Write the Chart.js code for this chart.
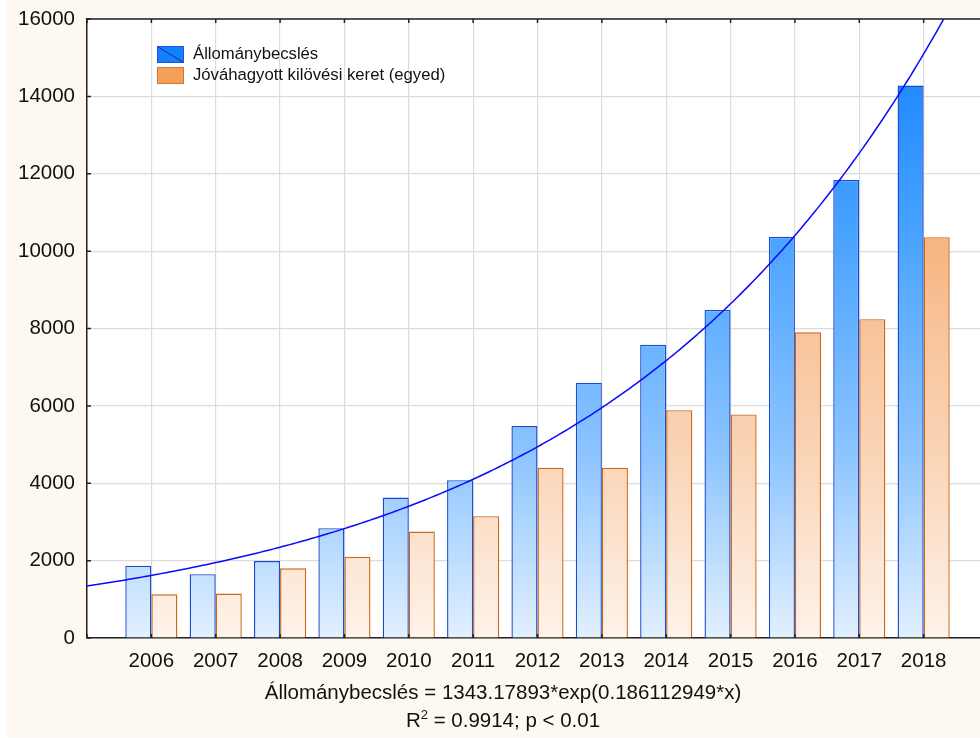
<!DOCTYPE html>
<html><head><meta charset="utf-8">
<script src="https://cdn.jsdelivr.net/npm/chart.js@4.4.1/dist/chart.umd.min.js"></script>
<style>
html,body{margin:0;padding:0;background:#fff;overflow:hidden;width:980px;height:738px;}
#wrap{position:relative;width:1000px;height:738px;}
#c{position:absolute;left:0;top:0;}
.lg{position:absolute;left:157px;top:46px;font-family:"Liberation Sans",Arial,sans-serif;font-size:16.7px;color:#111;}
.row{position:relative;height:21px;white-space:nowrap;}
.box{position:absolute;left:0;top:0;width:25px;height:15px;}
.txt{position:absolute;left:36px;top:-1px;line-height:17px;}
.b1{background:#1480ff;border:1px solid #1f55d0;background-image:linear-gradient(to bottom left, transparent calc(50% - 0.8px), #10249a 50%, transparent calc(50% + 0.8px));}
.b2{background:#f5a05a;border:1px solid #d4782e;}
.ft{position:absolute;left:0;width:1006px;top:678px;text-align:center;font-family:"Liberation Sans",Arial,sans-serif;font-size:20.5px;line-height:28px;color:#111;}
.ft sup{font-size:13px;line-height:0;vertical-align:8px;}
</style></head>
<body>
<div id="wrap">
<canvas id="c" width="1000" height="738"></canvas>
<div class="lg">
  <div class="row"><div class="box b1"></div><div class="txt">Állománybecslés</div></div>
  <div class="row"><div class="box b2"></div><div class="txt">Jóváhagyott kilövési keret (egyed)</div></div>
</div>
<div class="ft">Állománybecslés = 1343.17893*exp(0.186112949*x)<br>R<sup>2</sup> = 0.9914; p &lt; 0.01</div>
</div>
<script>
const years = [2006, 2007, 2008, 2009, 2010, 2011, 2012, 2013, 2014, 2015, 2016, 2017, 2018];
const allomanybecsles = [1870, 1650, 1990, 2840, 3630, 4080, 5480, 6600, 7580, 8480, 10370, 11840, 14280];
const kilovesiKeret = [1130, 1150, 1800, 2100, 2750, 3150, 4400, 4400, 5890, 5780, 7900, 8240, 10360];
const yTickValues = [0, 2000, 4000, 6000, 8000, 10000, 12000, 14000, 16000];
// fitted curve printed on the chart: y = A*exp(B*x), x = year - 2005
const fitA = 1343.17893;
const fitB = 0.186112949;
const fitOriginYear = 2005;

const xMin = years[0] - 1, xMax = years[years.length - 1] + 1;
const fitPoints = [];
for (let i = 0; i <= (xMax - xMin) * 20; i++) {
  const x = xMin + i / 20;
  fitPoints.push({x: x, y: fitA * Math.exp(fitB * (x - fitOriginYear))});
}

function grad(ctx, chart, stops) {
  const a = chart.chartArea;
  if (!a) return stops[0][1];
  const g = ctx.createLinearGradient(0, a.bottom, 0, a.top);
  stops.forEach(s => g.addColorStop(s[0], s[1]));
  return g;
}
const blueStops = [[0, '#e2f0fe'], [0.3, '#8cc4ff'], [0.68, '#44a0ff'], [0.92, '#1e88ff'], [1, '#1582ff']];
const orangeStops = [[0, '#fef3ea'], [0.3, '#fad4b5'], [0.49, '#f8c49c'], [0.65, '#f6b47f'], [1, '#f39550']];

const framePlugin = {
  id: 'frame',
  beforeDraw(chart) {
    const {ctx, chartArea: a} = chart;
    ctx.save();
    ctx.fillStyle = '#ffffff';
    ctx.fillRect(0, 0, chart.width, chart.height);
    ctx.fillStyle = '#fdf9f0';
    ctx.fillRect(7, 0, chart.width - 7, 737);
    ctx.fillStyle = '#ffffff';
    ctx.fillRect(a.left, a.top, a.right - a.left, a.bottom - a.top);
    ctx.restore();
  },
  afterDraw(chart) {
    const {ctx, chartArea: a, scales} = chart;
    ctx.save();
    ctx.strokeStyle = '#222';
    ctx.lineWidth = 1.5;
    ctx.beginPath();
    ctx.moveTo(a.left, a.top); ctx.lineTo(a.right, a.top);
    ctx.stroke();
    ctx.beginPath();
    yTickValues.forEach(v => {
      const y = scales.y.getPixelForValue(v);
      ctx.moveTo(a.left, y); ctx.lineTo(a.left + 4, y);
    });
    for (let yr = xMin; yr <= xMax; yr++) {
      const x = scales.x.getPixelForValue(yr);
      ctx.moveTo(x, a.bottom); ctx.lineTo(x, a.bottom - 4);
      ctx.moveTo(x, a.top); ctx.lineTo(x, a.top + 4);
    }
    ctx.stroke();
    ctx.restore();
  }
};

const font = {family: '"Liberation Sans", Arial, sans-serif', size: 20.5};

new Chart(document.getElementById('c'), {
  type: 'bar',
  data: {
    datasets: [
      {
        type: 'line',
        label: 'Illesztett görbe',
        data: fitPoints,
        borderColor: '#0a0aff',
        borderWidth: 1.5,
        pointRadius: 0,
        fill: false,
        tension: 0,
        order: -1
      },
      {
        label: 'Állománybecslés',
        data: years.map((y, i) => ({x: y, y: allomanybecsles[i]})),
        backgroundColor: c => grad(c.chart.ctx, c.chart, blueStops),
        borderColor: '#1a4cd2',
        borderWidth: 1.4,
        borderSkipped: 'bottom'
      },
      {
        label: 'Jóváhagyott kilövési keret (egyed)',
        data: years.map((y, i) => ({x: y, y: kilovesiKeret[i]})),
        backgroundColor: c => grad(c.chart.ctx, c.chart, orangeStops),
        borderColor: '#cc6618',
        borderWidth: 1.4,
        borderSkipped: 'bottom'
      }
    ]
  },
  options: {
    responsive: false,
    animation: false,
    devicePixelRatio: 1,
    categoryPercentage: 0.81,
    barPercentage: 1,
    layout: {padding: {left: 0, top: 19, right: 12, bottom: 0}},
    plugins: {legend: {display: false}, tooltip: {enabled: false}},
    scales: {
      x: {
        type: 'linear',
        min: xMin,
        max: xMax,
        offset: false,
        grid: {color: '#dcdcdc', lineWidth: 1.2, drawTicks: false, offset: false},
        border: {color: '#222', width: 1.5},
        ticks: {
          stepSize: 1,
          autoSkip: false,
          maxRotation: 0,
          padding: 11,
          color: '#111',
          font: font,
          callback: v => (years.includes(v) ? String(v) : '')
        },
        afterFit: s => { s.height = 100; s.paddingLeft = 0; s.paddingRight = 0; }
      },
      y: {
        min: 0,
        max: 16000,
        grid: {color: '#dcdcdc', lineWidth: 1.2, drawTicks: false},
        border: {color: '#222', width: 1.5},
        afterBuildTicks: s => { s.ticks = yTickValues.map(v => ({value: v})); },
        ticks: {
          padding: 12,
          color: '#111',
          font: font,
          callback: v => String(v)
        },
        afterFit: s => { s.width = 87; s.paddingTop = 0; s.paddingBottom = 0; }
      }
    }
  },
  plugins: [framePlugin]
});
</script>
</body></html>
